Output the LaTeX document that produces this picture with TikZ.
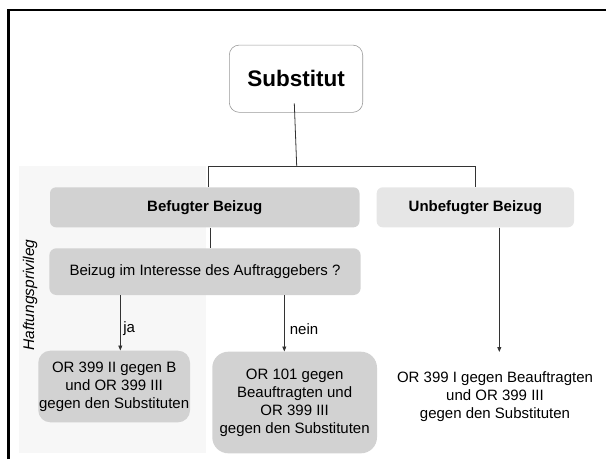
\documentclass[tikz,border=0pt]{standalone}
\usepackage{fontspec}
\setmainfont{Liberation Sans}
\usetikzlibrary{arrows.meta,calc}
\definecolor{boxgray}{HTML}{D2D2D2}
\definecolor{boxlight}{HTML}{E6E6E6}
\definecolor{panelgray}{HTML}{F7F7F7}
\definecolor{linegray}{HTML}{333333}
\tikzset{
  box/.style={inner sep=0pt, align=center, font=\fontsize{15}{18}\selectfont},
  conn/.style={draw=linegray, line width=0.8pt},
  arr/.style={conn, -{Triangle[length=5pt,width=4pt]}},
  lbl/.style={inner sep=0pt, font=\fontsize{15}{18}\selectfont}
}
\begin{document}
\begin{tikzpicture}[x=1pt,y=-1pt]
\useasboundingbox (0,0) rectangle (606,459);
% frame
\draw[line width=2.5pt, black] (8.6,459) -- (8.6,10) -- (606,10);
% panel
\fill[panelgray] (18.5,166) rectangle (205.7,453.3);
\node[lbl, rotate=90, font=\fontsize{15.5}{18}\selectfont\itshape] (hp) at (30,295) {Haftungsprivileg};
% nodes
\node[box, draw=gray!80, line width=0.6pt, fill=white, rounded corners=10pt,
      minimum width=133.4pt, minimum height=67.3pt,
      font=\fontsize{22.5}{26}\selectfont\bfseries] (sub) at (296,78.7) {Substitut};
\node[box, fill=boxgray, rounded corners=6pt, minimum width=309.5pt, minimum height=40pt,
      font=\fontsize{15}{18}\selectfont\bfseries] (bef) at (204.75,207.3) {Befugter Beizug};
\node[box, fill=boxlight, rounded corners=6pt, minimum width=197.3pt, minimum height=40pt,
      font=\fontsize{15}{18}\selectfont\bfseries] (unb) at (475.35,207.3) {Unbefugter Beizug};
\node[box, fill=boxgray, rounded corners=7pt, minimum width=311.3pt, minimum height=46.7pt] (int) at (205,271.65) {Beizug im Interesse des Auftraggebers ?};
\node[box, fill=boxgray, rounded corners=12pt, minimum width=151.7pt, minimum height=71.6pt] (ora) at (114.15,386.5) {OR 399 II gegen B\\und OR 399 III\\gegen den Substituten};
\node[box, fill=boxgray, rounded corners=16pt, minimum width=164.7pt, minimum height=101.6pt] (orb) at (294.65,402.5) {OR 101 gegen\\Beauftragten und\\OR 399 III\\gegen den Substituten};
\node[box] (orc) at (495,396.6) {OR 399 I gegen Beauftragten\\und OR 399 III\\gegen den Substituten};
% coordinates
\coordinate (s0) at (294.3,103.3);
\coordinate (jn) at (296.7,166);
\coordinate (lft) at (208.3,166);
\coordinate (rgt) at (475.5,166);
\coordinate (xa) at (210,0);
\coordinate (xja) at (120.3,0);
\coordinate (xne) at (284.3,0);
\coordinate (xun) at (499.3,0);
\coordinate (une) at (499.3,352);
% connectors
\draw[conn] (s0) -- (jn);
\draw[conn] (lft |- bef.north) -- (lft) -- (rgt) -- (rgt |- unb.north);
\draw[conn] (bef.south -| xa) -- (int.north -| xa);
\draw[arr] (int.south -| xja) -- (ora.north -| xja);
\draw[arr] (int.south -| xne) -- (orb.north -| xne);
\draw[arr] (unb.south -| xun) -- (une);
% labels
\node[lbl] (ja) at (129.2,329) {ja};
\node[lbl] (nein) at (304,329) {nein};
\end{tikzpicture}
\end{document}
